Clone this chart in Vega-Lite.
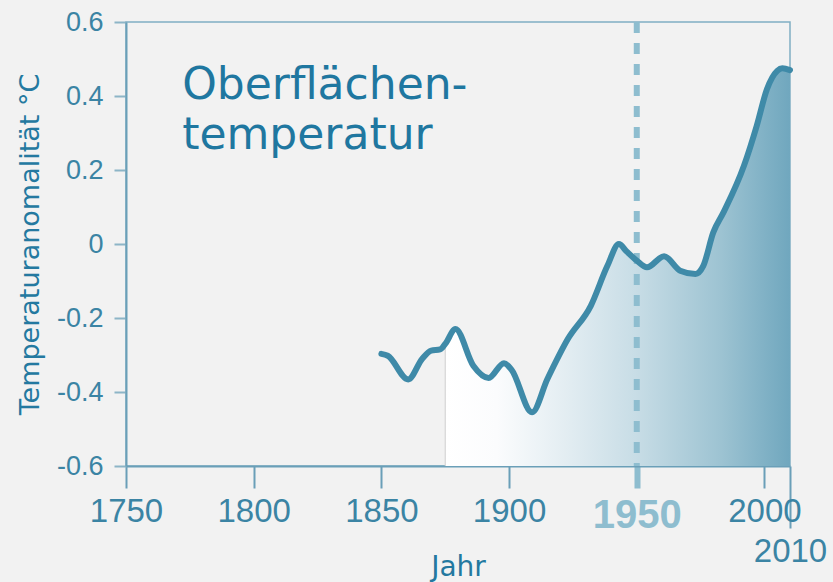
{
  "$schema": "https://vega.github.io/schema/vega-lite/v6.json",
  "width": 664,
  "height": 444,
  "autosize": "none",
  "padding": {"left": 126, "top": 22, "right": 43, "bottom": 116},
  "background": "#f2f2f2",
  "config": {
    "view": {"stroke": "#80afc3", "strokeWidth": 1.5, "fill": "#f2f2f2"},
    "axis": {"grid": false}
  },
  "data": {
    "values": [
      {"year": 1850, "anomaly": -0.297},
      {"year": 1852.5, "anomaly": -0.302},
      {"year": 1860.5, "anomaly": -0.366},
      {"year": 1866, "anomaly": -0.31},
      {"year": 1869.5, "anomaly": -0.288},
      {"year": 1873, "anomaly": -0.285},
      {"year": 1875, "anomaly": -0.27},
      {"year": 1879, "anomaly": -0.23},
      {"year": 1886, "anomaly": -0.329},
      {"year": 1892, "anomaly": -0.362},
      {"year": 1898, "anomaly": -0.322},
      {"year": 1901, "anomaly": -0.34},
      {"year": 1909, "anomaly": -0.455},
      {"year": 1915, "anomaly": -0.365},
      {"year": 1923, "anomaly": -0.257},
      {"year": 1932, "anomaly": -0.167},
      {"year": 1938.5, "anomaly": -0.059},
      {"year": 1943, "anomaly": 0.0},
      {"year": 1946, "anomaly": -0.02},
      {"year": 1950, "anomaly": -0.045},
      {"year": 1954, "anomaly": -0.063},
      {"year": 1960.7, "anomaly": -0.033},
      {"year": 1967, "anomaly": -0.072},
      {"year": 1973, "anomaly": -0.081},
      {"year": 1976, "anomaly": -0.06},
      {"year": 1980, "anomaly": 0.032},
      {"year": 1984, "anomaly": 0.086},
      {"year": 1992, "anomaly": 0.212},
      {"year": 1997, "anomaly": 0.32},
      {"year": 2001, "anomaly": 0.419},
      {"year": 2005, "anomaly": 0.468},
      {"year": 2007, "anomaly": 0.475},
      {"year": 2010, "anomaly": 0.47}
    ]
  },
  "encoding": {
    "x": {
      "field": "year",
      "type": "quantitative",
      "scale": {"domain": [1750, 2010], "nice": false, "zero": false},
      "axis": {
        "title": "Jahr",
        "titleFont": "DejaVu Sans",
        "titleFontSize": 28,
        "titleFontWeight": "normal",
        "titleColor": "#2479a0",
        "titleBaseline": "alphabetic",
        "titleY": 109,
        "values": [1750, 1800, 1850, 1900, 1950, 2000, 2010],
        "format": "d",
        "domainColor": "#6a9fb8",
        "domainWidth": 2,
        "tickColor": {"condition": {"test": "datum.value == 1950", "value": "#8ebdcf"}, "value": "#6a9fb8"},
        "tickWidth": {"condition": {"test": "datum.value == 1950", "value": 6}, "value": 2},
        "tickSize": {"condition": {"test": "datum.value == 2010", "value": 62}, "value": 22},
        "labelFont": "Liberation Sans",
        "labelFontSize": {"condition": {"test": "datum.value == 1950", "value": 40}, "value": 33},
        "labelFontWeight": {"condition": {"test": "datum.value == 1950", "value": "bold"}, "value": "normal"},
        "labelColor": {"condition": {"test": "datum.value == 1950", "value": "#8ebdcf"}, "value": "#3b84a4"},
        "labelPadding": 7,
        "labelOverlap": false,
        "labelFlush": false
      }
    },
    "y": {
      "field": "anomaly",
      "type": "quantitative",
      "scale": {"domain": [-0.6, 0.6], "nice": false, "zero": false},
      "axis": {
        "title": "Temperaturanomalität °C",
        "titleFont": "DejaVu Sans",
        "titleFontSize": 27,
        "titleFontWeight": "normal",
        "titleColor": "#2479a0",
        "titlePadding": 12,
        "values": [-0.6, -0.4, -0.2, 0, 0.2, 0.4, 0.6],
        "labelExpr": "datum.value == 0 ? '0' : (datum.value < 0 ? '-' + format(-datum.value, '.1f') : format(datum.value, '.1f'))",
        "domainColor": "#6a9fb8",
        "domainWidth": 2,
        "tickColor": "#8db5c7",
        "tickWidth": 2,
        "tickSize": 12,
        "labelFont": "Liberation Sans",
        "labelFontSize": 27,
        "labelColor": "#3b84a4",
        "labelPadding": 11
      }
    }
  },
  "layer": [
    {
      "transform": [{"filter": "datum.year >= 1875"}],
      "mark": {
        "type": "area",
        "interpolate": "monotone",
        "color": {
          "gradient": "linear",
          "x1": 0, "x2": 1, "y1": 0, "y2": 0,
          "stops": [
            {"offset": 0, "color": "#ffffff"},
            {"offset": 0.15, "color": "#fbfcfd"},
            {"offset": 0.35, "color": "#e3edf2"},
            {"offset": 0.55, "color": "#c8dde6"},
            {"offset": 0.8, "color": "#9dc3d2"},
            {"offset": 1, "color": "#70a7be"}
          ]
        }
      },
      "encoding": {"y2": {"datum": -0.6}}
    },
    {
      "transform": [{"filter": "datum.year == 1850"}],
      "mark": {"type": "rule", "color": "#cfcfcf", "strokeWidth": 1},
      "encoding": {
        "x": {"datum": 1875},
        "y": {"datum": -0.6},
        "y2": {"datum": -0.275}
      }
    },
    {
      "transform": [{"filter": "datum.year == 1850"}],
      "mark": {"type": "rule", "color": "#8ebdcf", "strokeWidth": 6, "strokeDash": [11, 10]},
      "encoding": {
        "x": {"datum": 1950},
        "y": {"datum": 0.6},
        "y2": {"datum": -0.6}
      }
    },
    {
      "mark": {"type": "line", "interpolate": "monotone", "color": "#3f8aa8", "strokeWidth": 6, "strokeCap": "round"}
    },
    {
      "transform": [{"filter": "datum.year == 1850"}],
      "mark": {
        "type": "text",
        "text": ["Oberflächen-", "temperatur"],
        "font": "DejaVu Sans",
        "fontSize": 44,
        "lineHeight": 50,
        "align": "left",
        "baseline": "alphabetic",
        "color": "#1f77a0"
      },
      "encoding": {
        "x": {"datum": 1772},
        "y": {"datum": 0.392}
      }
    }
  ]
}
